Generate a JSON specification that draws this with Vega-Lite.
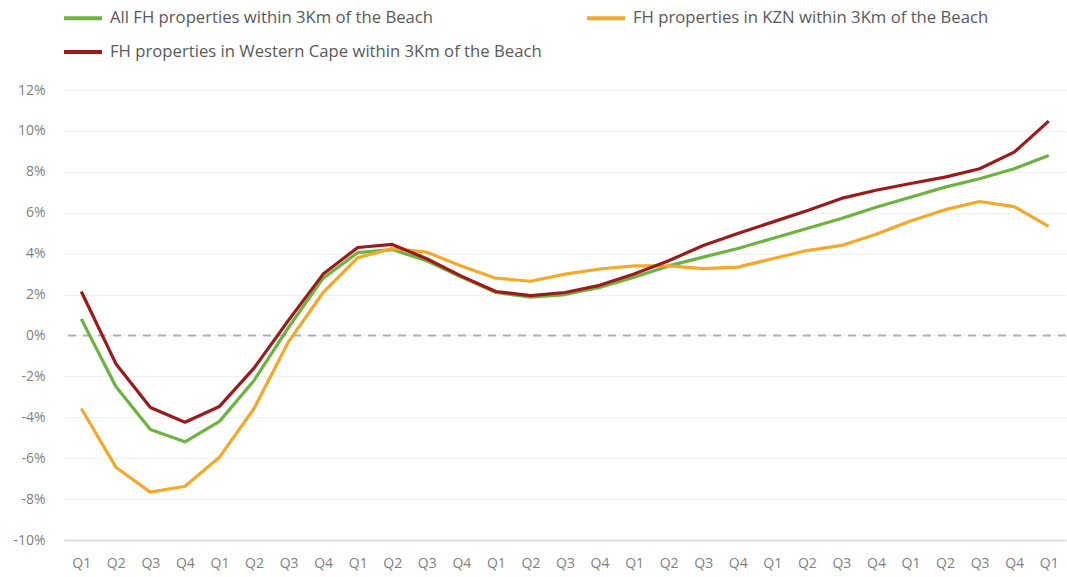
{
  "$schema": "https://vega.github.io/schema/vega-lite/v6.json",
  "width": 1002,
  "height": 450,
  "autosize": {"type": "none"},
  "padding": {"left": 64, "top": 90, "right": 1, "bottom": 37},
  "background": "white",
  "config": {
    "font": "Open Sans",
    "view": {"stroke": null}
  },
  "datasets": {
    "series": [
      {"p": "2009 Q1", "s": "All FH properties within 3Km of the Beach", "v": 0.8},
      {"p": "2009 Q2", "s": "All FH properties within 3Km of the Beach", "v": -2.5},
      {"p": "2009 Q3", "s": "All FH properties within 3Km of the Beach", "v": -4.6},
      {"p": "2009 Q4", "s": "All FH properties within 3Km of the Beach", "v": -5.2},
      {"p": "2010 Q1", "s": "All FH properties within 3Km of the Beach", "v": -4.2},
      {"p": "2010 Q2", "s": "All FH properties within 3Km of the Beach", "v": -2.2},
      {"p": "2010 Q3", "s": "All FH properties within 3Km of the Beach", "v": 0.4},
      {"p": "2010 Q4", "s": "All FH properties within 3Km of the Beach", "v": 2.8},
      {"p": "2011 Q1", "s": "All FH properties within 3Km of the Beach", "v": 4.05},
      {"p": "2011 Q2", "s": "All FH properties within 3Km of the Beach", "v": 4.2},
      {"p": "2011 Q3", "s": "All FH properties within 3Km of the Beach", "v": 3.65},
      {"p": "2011 Q4", "s": "All FH properties within 3Km of the Beach", "v": 2.85},
      {"p": "2012 Q1", "s": "All FH properties within 3Km of the Beach", "v": 2.1},
      {"p": "2012 Q2", "s": "All FH properties within 3Km of the Beach", "v": 1.87},
      {"p": "2012 Q3", "s": "All FH properties within 3Km of the Beach", "v": 2.0},
      {"p": "2012 Q4", "s": "All FH properties within 3Km of the Beach", "v": 2.35},
      {"p": "2013 Q1", "s": "All FH properties within 3Km of the Beach", "v": 2.85},
      {"p": "2013 Q2", "s": "All FH properties within 3Km of the Beach", "v": 3.4},
      {"p": "2013 Q3", "s": "All FH properties within 3Km of the Beach", "v": 3.83},
      {"p": "2013 Q4", "s": "All FH properties within 3Km of the Beach", "v": 4.25},
      {"p": "2014 Q1", "s": "All FH properties within 3Km of the Beach", "v": 4.74},
      {"p": "2014 Q2", "s": "All FH properties within 3Km of the Beach", "v": 5.23},
      {"p": "2014 Q3", "s": "All FH properties within 3Km of the Beach", "v": 5.72},
      {"p": "2014 Q4", "s": "All FH properties within 3Km of the Beach", "v": 6.27},
      {"p": "2015 Q1", "s": "All FH properties within 3Km of the Beach", "v": 6.76},
      {"p": "2015 Q2", "s": "All FH properties within 3Km of the Beach", "v": 7.25},
      {"p": "2015 Q3", "s": "All FH properties within 3Km of the Beach", "v": 7.66},
      {"p": "2015 Q4", "s": "All FH properties within 3Km of the Beach", "v": 8.15},
      {"p": "2016 Q1", "s": "All FH properties within 3Km of the Beach", "v": 8.8},
      {"p": "2009 Q1", "s": "FH properties in KZN within 3Km of the Beach", "v": -3.57},
      {"p": "2009 Q2", "s": "FH properties in KZN within 3Km of the Beach", "v": -6.44},
      {"p": "2009 Q3", "s": "FH properties in KZN within 3Km of the Beach", "v": -7.66},
      {"p": "2009 Q4", "s": "FH properties in KZN within 3Km of the Beach", "v": -7.37},
      {"p": "2010 Q1", "s": "FH properties in KZN within 3Km of the Beach", "v": -5.95},
      {"p": "2010 Q2", "s": "FH properties in KZN within 3Km of the Beach", "v": -3.57},
      {"p": "2010 Q3", "s": "FH properties in KZN within 3Km of the Beach", "v": -0.3},
      {"p": "2010 Q4", "s": "FH properties in KZN within 3Km of the Beach", "v": 2.1},
      {"p": "2011 Q1", "s": "FH properties in KZN within 3Km of the Beach", "v": 3.8},
      {"p": "2011 Q2", "s": "FH properties in KZN within 3Km of the Beach", "v": 4.25},
      {"p": "2011 Q3", "s": "FH properties in KZN within 3Km of the Beach", "v": 4.07},
      {"p": "2011 Q4", "s": "FH properties in KZN within 3Km of the Beach", "v": 3.4},
      {"p": "2012 Q1", "s": "FH properties in KZN within 3Km of the Beach", "v": 2.8},
      {"p": "2012 Q2", "s": "FH properties in KZN within 3Km of the Beach", "v": 2.65},
      {"p": "2012 Q3", "s": "FH properties in KZN within 3Km of the Beach", "v": 3.0},
      {"p": "2012 Q4", "s": "FH properties in KZN within 3Km of the Beach", "v": 3.25},
      {"p": "2013 Q1", "s": "FH properties in KZN within 3Km of the Beach", "v": 3.4},
      {"p": "2013 Q2", "s": "FH properties in KZN within 3Km of the Beach", "v": 3.4},
      {"p": "2013 Q3", "s": "FH properties in KZN within 3Km of the Beach", "v": 3.27},
      {"p": "2013 Q4", "s": "FH properties in KZN within 3Km of the Beach", "v": 3.34},
      {"p": "2014 Q1", "s": "FH properties in KZN within 3Km of the Beach", "v": 3.75},
      {"p": "2014 Q2", "s": "FH properties in KZN within 3Km of the Beach", "v": 4.15},
      {"p": "2014 Q3", "s": "FH properties in KZN within 3Km of the Beach", "v": 4.4},
      {"p": "2014 Q4", "s": "FH properties in KZN within 3Km of the Beach", "v": 4.95},
      {"p": "2015 Q1", "s": "FH properties in KZN within 3Km of the Beach", "v": 5.6},
      {"p": "2015 Q2", "s": "FH properties in KZN within 3Km of the Beach", "v": 6.15},
      {"p": "2015 Q3", "s": "FH properties in KZN within 3Km of the Beach", "v": 6.55},
      {"p": "2015 Q4", "s": "FH properties in KZN within 3Km of the Beach", "v": 6.3},
      {"p": "2016 Q1", "s": "FH properties in KZN within 3Km of the Beach", "v": 5.33},
      {"p": "2009 Q1", "s": "FH properties in Western Cape within 3Km of the Beach", "v": 2.15},
      {"p": "2009 Q2", "s": "FH properties in Western Cape within 3Km of the Beach", "v": -1.38},
      {"p": "2009 Q3", "s": "FH properties in Western Cape within 3Km of the Beach", "v": -3.52},
      {"p": "2009 Q4", "s": "FH properties in Western Cape within 3Km of the Beach", "v": -4.24},
      {"p": "2010 Q1", "s": "FH properties in Western Cape within 3Km of the Beach", "v": -3.47},
      {"p": "2010 Q2", "s": "FH properties in Western Cape within 3Km of the Beach", "v": -1.6},
      {"p": "2010 Q3", "s": "FH properties in Western Cape within 3Km of the Beach", "v": 0.75},
      {"p": "2010 Q4", "s": "FH properties in Western Cape within 3Km of the Beach", "v": 3.0},
      {"p": "2011 Q1", "s": "FH properties in Western Cape within 3Km of the Beach", "v": 4.3},
      {"p": "2011 Q2", "s": "FH properties in Western Cape within 3Km of the Beach", "v": 4.45},
      {"p": "2011 Q3", "s": "FH properties in Western Cape within 3Km of the Beach", "v": 3.75},
      {"p": "2011 Q4", "s": "FH properties in Western Cape within 3Km of the Beach", "v": 2.9},
      {"p": "2012 Q1", "s": "FH properties in Western Cape within 3Km of the Beach", "v": 2.15},
      {"p": "2012 Q2", "s": "FH properties in Western Cape within 3Km of the Beach", "v": 1.95},
      {"p": "2012 Q3", "s": "FH properties in Western Cape within 3Km of the Beach", "v": 2.1},
      {"p": "2012 Q4", "s": "FH properties in Western Cape within 3Km of the Beach", "v": 2.45},
      {"p": "2013 Q1", "s": "FH properties in Western Cape within 3Km of the Beach", "v": 3.0},
      {"p": "2013 Q2", "s": "FH properties in Western Cape within 3Km of the Beach", "v": 3.65},
      {"p": "2013 Q3", "s": "FH properties in Western Cape within 3Km of the Beach", "v": 4.4},
      {"p": "2013 Q4", "s": "FH properties in Western Cape within 3Km of the Beach", "v": 4.98},
      {"p": "2014 Q1", "s": "FH properties in Western Cape within 3Km of the Beach", "v": 5.54},
      {"p": "2014 Q2", "s": "FH properties in Western Cape within 3Km of the Beach", "v": 6.1},
      {"p": "2014 Q3", "s": "FH properties in Western Cape within 3Km of the Beach", "v": 6.7},
      {"p": "2014 Q4", "s": "FH properties in Western Cape within 3Km of the Beach", "v": 7.1},
      {"p": "2015 Q1", "s": "FH properties in Western Cape within 3Km of the Beach", "v": 7.43},
      {"p": "2015 Q2", "s": "FH properties in Western Cape within 3Km of the Beach", "v": 7.74},
      {"p": "2015 Q3", "s": "FH properties in Western Cape within 3Km of the Beach", "v": 8.15},
      {"p": "2015 Q4", "s": "FH properties in Western Cape within 3Km of the Beach", "v": 8.96},
      {"p": "2016 Q1", "s": "FH properties in Western Cape within 3Km of the Beach", "v": 10.48}
    ],
    "zero": [{"z": 0}]
  },
  "layer": [
    {
      "data": {"name": "zero"},
      "mark": {"type": "rule", "color": "#b0b0b0", "strokeWidth": 2, "strokeDash": [8, 7]},
      "encoding": {
        "y": {"field": "z", "type": "quantitative", "scale": {"domain": [-10, 12]}}
      }
    },
    {
      "data": {"name": "series"},
      "mark": {"type": "line", "strokeWidth": 3.2, "strokeJoin": "round"},
      "encoding": {
        "x": {
          "field": "p",
          "type": "ordinal",
          "scale": {"type": "point", "padding": 0.5},
          "axis": {
            "title": null,
            "labelExpr": "substring(datum.label, 5)",
            "labelAngle": 0,
            "labelFontSize": 14,
            "labelColor": "#7f7f7f",
            "labelPadding": 16,
            "ticks": false,
            "domain": true,
            "domainColor": "#d9d9d9",
            "domainWidth": 1.5,
            "grid": false
          }
        },
        "y": {
          "field": "v",
          "type": "quantitative",
          "scale": {"domain": [-10, 12], "nice": false},
          "axis": {
            "title": null,
            "values": [-10, -8, -6, -4, -2, 0, 2, 4, 6, 8, 10, 12],
            "labelExpr": "datum.value + '%'",
            "labelFontSize": 14,
            "labelColor": "#7f7f7f",
            "labelPadding": 19,
            "ticks": false,
            "domain": false,
            "grid": true,
            "gridColor": "#f0f0f0",
            "gridWidth": 1
          }
        },
        "color": {
          "field": "s",
          "type": "nominal",
          "scale": {
            "domain": [
              "All FH properties within 3Km of the Beach",
              "FH properties in KZN within 3Km of the Beach",
              "FH properties in Western Cape within 3Km of the Beach"
            ],
            "range": ["#6DB33F", "#F5A82A", "#9B1B1B"]
          },
          "legend": {
            "title": null,
            "orient": "none",
            "legendX": -2,
            "legendY": -93,
            "direction": "horizontal",
            "columns": 2,
            "columnPadding": 37,
            "rowPadding": 4,
            "symbolType": "stroke",
            "symbolStrokeWidth": 4,
            "symbolSize": 1444,
            "labelFontSize": 16.7,
            "labelColor": "#595959",
            "labelOffset": 6,
            "labelLimit": 600
          }
        }
      }
    }
  ]
}
